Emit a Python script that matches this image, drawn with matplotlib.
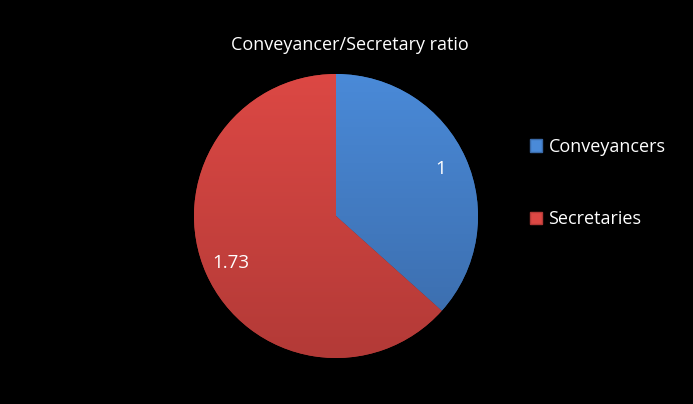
import numpy as np
import matplotlib
matplotlib.use("Agg")
import matplotlib.pyplot as plt
from matplotlib.colors import LinearSegmentedColormap
from matplotlib.patches import Patch

TITLE = "Conveyancer/Secretary ratio"
LABELS = ["Conveyancers", "Secretaries"]
VALUES = [1, 1.73]
TOP_COLORS = ["#4a8ad8", "#dc4844"]
BOTTOM_COLORS = ["#3a6aa8", "#b33a37"]

plt.rcParams["font.family"] = ["Open Sans", "DejaVu Sans"]

W, H = 693, 404
fig = plt.figure(figsize=(W / 100, H / 100), dpi=100, facecolor="black")

# pie centre (px from left/bottom) and radius
cx, cy, r = 336, 188, 142
pad = 1.04
ax = fig.add_axes([(cx - r * pad) / W, (cy - r * pad) / H, 2 * r * pad / W, 2 * r * pad / H])
ax.set_facecolor("black")

wedges, _, autotexts = ax.pie(
    VALUES, startangle=90, counterclock=False, radius=1,
    colors=TOP_COLORS, autopct=lambda p: f"{p * sum(VALUES) / 100:.3g}",
    pctdistance=0.81,
    wedgeprops=dict(edgecolor="#00000040", linewidth=0.8),
    textprops=dict(color="white", fontsize=13.5),
)

# vertical gradient fill clipped to each wedge
grad = np.linspace(1, 0, 256).reshape(-1, 1)
for w, top, bot in zip(wedges, TOP_COLORS, BOTTOM_COLORS):
    cmap = LinearSegmentedColormap.from_list("g", [bot, top])
    im = ax.imshow(grad, cmap=cmap, extent=[-1, 1, -1, 1], origin="upper",
                   aspect="auto", zorder=w.get_zorder() + 0.1)
    im.set_clip_path(w)
for t in autotexts:
    t.set_zorder(5)

ax.set_xlim(-pad, pad)
ax.set_ylim(-pad, pad)
ax.set_aspect("equal")
ax.axis("off")

fig.text(350 / W, 1 - 45 / H, TITLE, color="white", fontsize=13,
         ha="center", va="center")

handles = [Patch(facecolor=c, edgecolor=b, label=l)
           for c, b, l in zip(TOP_COLORS, BOTTOM_COLORS, LABELS)]
fig.legend(handles=handles, loc="center left", bbox_to_anchor=(530 / W, 1 - 183 / H),
           frameon=False, labelcolor="white", fontsize=13, handlelength=0.67,
           handleheight=0.67, handletextpad=0.35, labelspacing=3.0, borderpad=0,
           borderaxespad=0)

fig.savefig("out.png", dpi=100, facecolor="black")
